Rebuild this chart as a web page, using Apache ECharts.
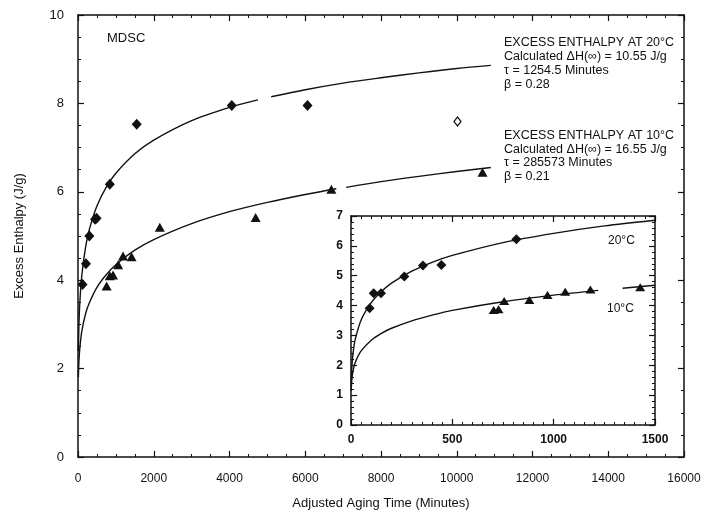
<!DOCTYPE html>
<html>
<head>
<meta charset="utf-8">
<script src="https://cdn.jsdelivr.net/npm/echarts@6/dist/echarts.min.js"></script>
<style>
  html, body { margin: 0; padding: 0; background: #fff; }
  #chart { width: 710px; height: 515px; }
</style>
</head>
<body>
<div id="chart"></div>
<script>
// measured points, main panel
const main20 = [[120, 3.9], [210, 4.37], [300, 5.0], [450, 5.38], [490, 5.4], [840, 6.17], [1550, 7.53], [4060, 7.95], [6060, 7.95]];
const main20Open = [[10020, 7.59]];
const main10 = [[756, 3.87], [840, 4.1], [925, 4.12], [1060, 4.35], [1190, 4.55], [1415, 4.53], [2160, 5.2], [4690, 5.42], [6690, 6.06], [10680, 6.44]];

// fitted curves (null = gap in the drawn line)
const fit20Main = [[10, 2.40], [25, 3.00], [50, 3.52], [100, 4.10], [200, 4.75], [300, 5.15], [500, 5.68], [750, 6.11],
  [1000, 6.42], [1500, 6.86], [2000, 7.17], [3000, 7.61], [4000, 7.91], [4750, 8.08], [4900, null], [5100, 8.15],
  [6000, 8.31], [7000, 8.46], [8000, 8.58], [9000, 8.69], [10000, 8.79], [10900, 8.86]];
const fit10Main = [[10, 1.81], [25, 2.17], [50, 2.48], [100, 2.84], [200, 3.24], [300, 3.49], [500, 3.84], [750, 4.13],
  [1000, 4.35], [1500, 4.68], [2000, 4.92], [3000, 5.28], [4000, 5.55], [5000, 5.76], [6000, 5.94], [6820, 6.07],
  [6950, null], [7080, 6.10], [8000, 6.23], [9000, 6.35], [10000, 6.46], [10900, 6.55]];

// inset panel
const inset20 = [[92, 3.91], [112, 4.41], [148, 4.41], [263, 4.97], [355, 5.34], [446, 5.36], [816, 6.22]];
const inset10 = [[704, 3.85], [728, 3.88], [756, 4.15], [880, 4.19], [970, 4.35], [1057, 4.46], [1181, 4.54], [1427, 4.61]];
const fit20Inset = [[1, 1.34], [2, 1.60], [5, 2.02], [10, 2.40], [20, 2.84], [50, 3.52], [100, 4.10], [150, 4.47],
  [200, 4.75], [300, 5.15], [400, 5.45], [500, 5.68], [750, 6.11], [1000, 6.42], [1250, 6.67], [1500, 6.86]];
const fit10Inset = [[1, 1.14], [2, 1.31], [5, 1.58], [10, 1.81], [20, 2.08], [50, 2.48], [100, 2.84], [150, 3.07],
  [200, 3.24], [300, 3.49], [400, 3.68], [500, 3.84], [750, 4.13], [1000, 4.35], [1220, 4.51], [1280, null],
  [1340, 4.58], [1500, 4.68]];

const mainXTicks = { min: 0, max: 16000, interval: 2000 };
const mainYTicks = { min: 0, max: 10, interval: 2 };
const insetXTicks = { min: 0, max: 1500, interval: 500 };
const insetYTicks = { min: 0, max: 7, interval: 1 };

const FONT = "Liberation Sans";
const ink = "#111";

function axis(gridIndex, ticks, opts) {
  return Object.assign({
    type: "value",
    gridIndex,
    min: ticks.min,
    max: ticks.max,
    interval: ticks.interval,
    axisLine: { show: true, onZero: false, lineStyle: { color: ink, width: 1.5 } },
    axisTick: { show: true, inside: true, length: 6, lineStyle: { color: ink, width: 1.2 } },
    minorTick: { show: true, splitNumber: 4, length: 3, lineStyle: { color: ink, width: 1 } },
    splitLine: { show: false },
    axisLabel: { show: true, color: ink, fontFamily: FONT, fontSize: 12, margin: 12, formatter: (v) => String(v) },
  }, opts);
}

const chart = echarts.init(document.getElementById("chart"));

const curveStyle = { color: ink, width: 1.4 };
const dot = { color: ink, opacity: 1 };
const options = {
  backgroundColor: "#fff",
  animation: false,
  grid: [
    { left: 78, top: 15, width: 606, height: 444 },
    { left: 351, top: 216, width: 304, height: 209, show: true, backgroundColor: "#fff", borderWidth: 0, z: 3 },
  ],
  xAxis: [
    axis(0, mainXTicks, {
      position: "bottom",
      name: "Adjusted Aging Time (Minutes)",
      nameLocation: "middle",
      nameGap: 40,
      nameTextStyle: { color: ink, fontFamily: FONT, fontSize: 13 },
      axisLabel: { color: ink, fontFamily: FONT, fontSize: 12, margin: 16, formatter: (v) => String(v) },
    }),
    axis(0, mainXTicks, { position: "top", axisLabel: { show: false } }),
    axis(1, insetXTicks, {
      position: "bottom",
      minorTick: { show: true, splitNumber: 10, length: 3, lineStyle: { color: ink } },
      axisLabel: { color: ink, fontFamily: FONT, fontSize: 12, fontWeight: "bold", margin: 9, formatter: (v) => String(v) },
      z: 4,
    }),
    axis(1, insetXTicks, {
      position: "top",
      minorTick: { show: true, splitNumber: 10, length: 3, lineStyle: { color: ink } },
      axisLabel: { show: false },
      z: 4,
    }),
  ],
  yAxis: [
    axis(0, mainYTicks, {
      position: "left",
      name: "Excess Enthalpy (J/g)",
      nameLocation: "middle",
      nameGap: 52,
      nameTextStyle: { color: ink, fontFamily: FONT, fontSize: 13 },
      axisLabel: { color: ink, fontFamily: FONT, fontSize: 13, margin: 14, formatter: (v) => String(v) },
    }),
    axis(0, mainYTicks, { position: "right", axisLabel: { show: false } }),
    axis(1, insetYTicks, {
      position: "left",
      minorTick: { show: true, splitNumber: 5, length: 3, lineStyle: { color: ink } },
      axisLabel: { color: ink, fontFamily: FONT, fontSize: 12, fontWeight: "bold", margin: 8, formatter: (v) => String(v) },
      z: 4,
    }),
    axis(1, insetYTicks, {
      position: "right",
      minorTick: { show: true, splitNumber: 5, length: 3, lineStyle: { color: ink } },
      axisLabel: { show: false },
      z: 4,
    }),
  ],
  series: [
    { type: "line", xAxisIndex: 0, yAxisIndex: 0, data: fit20Main, smooth: 0.3, showSymbol: false, lineStyle: curveStyle, connectNulls: false },
    { type: "line", xAxisIndex: 0, yAxisIndex: 0, data: fit10Main, smooth: 0.3, showSymbol: false, lineStyle: curveStyle, connectNulls: false },
    { type: "scatter", xAxisIndex: 0, yAxisIndex: 0, data: main20, symbol: "diamond", symbolSize: [10, 11], itemStyle: dot },
    { type: "scatter", xAxisIndex: 0, yAxisIndex: 0, data: main20Open, symbol: "diamond", symbolSize: [7, 9], itemStyle: { color: "#fff", opacity: 1, borderColor: ink, borderWidth: 1.3 } },
    { type: "scatter", xAxisIndex: 0, yAxisIndex: 0, data: main10, symbol: "triangle", symbolSize: [10, 9], itemStyle: dot },
    { type: "line", xAxisIndex: 2, yAxisIndex: 2, data: fit20Inset, smooth: 0.3, showSymbol: false, lineStyle: curveStyle, z: 5 },
    { type: "line", xAxisIndex: 2, yAxisIndex: 2, data: fit10Inset, smooth: 0.3, showSymbol: false, lineStyle: curveStyle, connectNulls: false, z: 5 },
    { type: "scatter", xAxisIndex: 2, yAxisIndex: 2, data: inset20, symbol: "diamond", symbolSize: [10, 10], itemStyle: dot, z: 6 },
    { type: "scatter", xAxisIndex: 2, yAxisIndex: 2, data: inset10, symbol: "triangle", symbolSize: [10, 8], itemStyle: dot, z: 6 },
  ],
  graphic: [
    { type: "text", left: 107, top: 32, style: { text: "MDSC", font: "13px " + FONT, fill: ink } },
    {
      type: "text", left: 504, top: 36,
      style: { text: "EXCESS ENTHALPY AT 20°C\nCalculated ΔH(∞) = 10.55 J/g\nτ = 1254.5 Minutes\nβ = 0.28", font: "12.5px " + FONT, lineHeight: 14, fill: ink },
    },
    {
      type: "text", left: 504, top: 129,
      style: { text: "EXCESS ENTHALPY AT 10°C\nCalculated ΔH(∞) = 16.55 J/g\nτ = 285573 Minutes\nβ = 0.21", font: "12.5px " + FONT, lineHeight: 13.5, fill: ink },
    },
    { type: "text", left: 608, top: 235, z: 10, style: { text: "20°C", font: "12px " + FONT, fill: ink } },
    { type: "text", left: 607, top: 303, z: 10, style: { text: "10°C", font: "12px " + FONT, fill: ink } },
  ],
};

chart.setOption(options);
</script>
</body>
</html>
